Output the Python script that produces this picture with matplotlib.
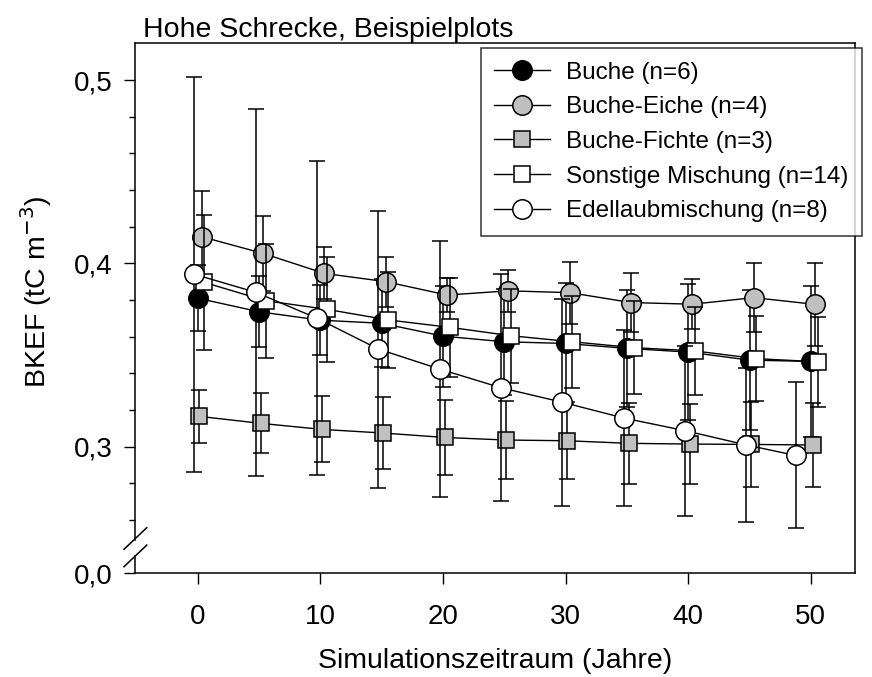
import numpy as np
import matplotlib
matplotlib.use("Agg")
import matplotlib.pyplot as plt
from matplotlib.lines import Line2D

plt.rcParams['font.family'] = ['Liberation Sans', 'DejaVu Sans']

# Data
years = [0, 5, 10, 15, 20, 25, 30, 35, 40, 45, 50]
years_edel = [0, 5, 10, 15, 20, 25, 30, 35, 40, 45, 49]

buche = [0.381, 0.3736, 0.369, 0.3673, 0.3603, 0.3572, 0.3563, 0.3536, 0.3516, 0.3472, 0.3465]
buche_sd = [0.018, 0.0195, 0.019, 0.024, 0.0275, 0.029, 0.033, 0.032, 0.037, 0.038, 0.041]
eiche = [0.4145, 0.4054, 0.3945, 0.390, 0.3827, 0.385, 0.384, 0.3786, 0.3777, 0.3813, 0.3776]
eiche_sd = [0.025, 0.0206, 0.0142, 0.0136, 0.0095, 0.0113, 0.017, 0.0163, 0.0136, 0.019, 0.0228]
fichte = [0.3165, 0.3127, 0.3094, 0.3074, 0.305, 0.3036, 0.3032, 0.3018, 0.3014, 0.3012, 0.3009]
fichte_sd = [0.0145, 0.0164, 0.018, 0.0197, 0.0204, 0.0215, 0.021, 0.022, 0.022, 0.023, 0.023]
sonst = [0.3896, 0.3796, 0.3749, 0.3691, 0.3651, 0.3605, 0.3572, 0.354, 0.3522, 0.348, 0.3463]
sonst_sd = [0.037, 0.031, 0.0287, 0.0264, 0.027, 0.0256, 0.025, 0.0253, 0.024, 0.023, 0.0246]
edel = [0.394, 0.3842, 0.370, 0.3532, 0.3423, 0.3321, 0.3242, 0.3156, 0.3087, 0.3009, 0.2952]
edel_sd = [0.1076, 0.100, 0.0856, 0.0755, 0.070, 0.062, 0.0564, 0.048, 0.0463, 0.042, 0.0398]

labels = ['Buche (n=6)', 'Buche-Eiche (n=4)', 'Buche-Fichte (n=3)',
          'Sonstige Mischung (n=14)', 'Edellaubmischung (n=8)']

grey = '#c0c0c0'
# (x, mean, sd, x-offset, marker, size, face)
series = [
    (years, buche, buche_sd, 0.0, 'o', 14, 'black'),
    (years, eiche, eiche_sd, 0.35, 'o', 14, grey),
    (years, fichte, fichte_sd, 0.15, 's', 12, grey),
    (years, sonst, sonst_sd, 0.55, 's', 12, 'white'),
    (years_edel, edel, edel_sd, -0.25, 'o', 14, 'white'),
]

# broken y axis: everything below 0.25 squeezed into a small strip
BRK = 0.25
K = 0.0764

def fwd(y):
    y = np.asarray(y, float)
    return np.where(y >= BRK, y, BRK + (y - BRK) * K)

def inv(v):
    v = np.asarray(v, float)
    return np.where(v >= BRK, v, BRK + (v - BRK) / K)

fig = plt.figure(figsize=(8.72, 6.77), dpi=100, facecolor='white')
ax = fig.add_axes((0.1545, 0.1532, 0.826, 0.7838))
ax.set_yscale('function', functions=(fwd, inv))

handles = []
for i, (x, m, sd, off, mk, ms, fc) in enumerate(series):
    xs = np.array(x) + off
    ax.errorbar(xs, m, yerr=sd, fmt='-', color='black', lw=1.0,
                marker=mk, ms=ms, mfc=fc, mec='black', mew=1.1,
                ecolor='black', elinewidth=1.1, capsize=6, capthick=1.1,
                zorder=2 + i)
    handles.append(Line2D([], [], color='black', lw=1.0, marker=mk, ms=ms,
                          mfc=fc, mec='black', mew=1.1))

ax.set_xlim(-5.12, 53.6)
ax.set_ylim(0, 0.5204)

ax.set_xticks([0, 10, 20, 30, 40, 50])
ax.set_yticks([0.0, 0.3, 0.4, 0.5])
ax.set_yticklabels(['0,0', '0,3', '0,4', '0,5'])
ax.set_yticks([0.26, 0.28, 0.32, 0.34, 0.36, 0.38, 0.42, 0.44, 0.46, 0.48], minor=True)
ax.tick_params(axis='both', which='major', direction='out', length=8, width=1.0,
               labelsize=20)
ax.tick_params(axis='x', which='major', pad=14)
ax.tick_params(axis='y', which='major', pad=8)
ax.tick_params(axis='y', which='minor', direction='out', length=4, width=1.0)
ax.tick_params(axis='x', which='minor', length=0)

for s in ax.spines.values():
    s.set_linewidth(1.1)
ax.spines['left'].set_visible(False)

# left spine with break marks
kw = dict(transform=ax.transAxes, color='black', lw=1.1, clip_on=False, zorder=20)
ax.plot([0, 0], [0.0628, 1], **kw)
ax.plot([0, 0], [0, 0.0326], **kw)
ax.plot([-0.0149, 0.0167], [0.0452, 0.0859], **kw)
ax.plot([-0.0149, 0.0167], [0.0124, 0.0531], **kw)

ax.set_xlabel('Simulationszeitraum (Jahre)', fontsize=20.5, labelpad=13)
ax.set_ylabel('BKEF (tC m$^{-3}$)', fontsize=20.5)
ax.yaxis.set_label_coords(-0.112, 0.53)

fig.text(143 / 872, 1 - 37 / 677, 'Hohe Schrecke, Beispielplots', fontsize=20.5,
         ha='left', va='baseline')

leg = ax.legend(handles, labels, loc='upper right', bbox_to_anchor=(1.0097, 0.9894),
                fontsize=17.5, frameon=True, fancybox=False, edgecolor='black',
                handlelength=2.3, handletextpad=0.66, labelspacing=0.52,
                borderpad=0.55, borderaxespad=0)
leg.get_frame().set_linewidth(1.1)
leg.set_zorder(30)

fig.savefig('out.png', dpi=100)
